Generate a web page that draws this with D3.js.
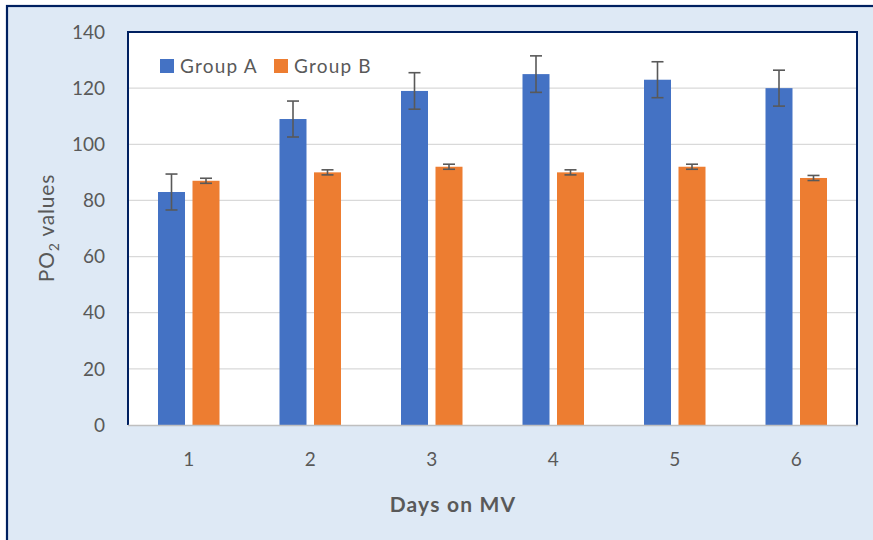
<!DOCTYPE html>
<html><head><meta charset="utf-8">
<script src="https://cdn.jsdelivr.net/npm/d3@7"></script>
<style>body{margin:0;background:#fff}svg{display:block}text{font-family:Lato,"Open Sans",sans-serif}</style>
</head><body>
<svg id="c" width="873" height="540"></svg>
<script>
const categories = ["1","2","3","4","5","6"];
const seriesNames = ["Group A","Group B"];
const groupA = [83,109,119,125,123,120];
const groupB = [87,90,92,90,92,88];
const errA = [6.4,6.4,6.5,6.5,6.4,6.4];
const errB = [0.9,0.9,0.9,0.9,0.9,0.9];
const yTicks = [0,20,40,60,80,100,120,140];
const colors = ["#4472C4","#ED7D31"];

const svg = d3.select("#c");
svg.append("rect").attr("x",7).attr("y",6).attr("width",880).attr("height",560)
  .attr("fill","#DEE9F5").attr("stroke","#002060").attr("stroke-width",2.2);

const L=128,R=857,T=32,B=425;
svg.append("rect").attr("x",L).attr("y",T).attr("width",R-L).attr("height",B-T).attr("fill","#fff");

const x = d3.scaleBand().domain(categories).range([L,R]);
const y = d3.scaleLinear().domain([0,140]).range([B,T]);

svg.append("g").selectAll("line").data(yTicks.filter(d=>d>0)).join("line")
  .attr("x1",L).attr("x2",R).attr("y1",d=>y(d)).attr("y2",d=>y(d))
  .attr("stroke","#D9D9D9").attr("stroke-width",1.3);

const bw=27, gap=7.5;
const data = [groupA,groupB];
const errs = [errA,errB];
data.forEach((vals,si)=>{
  const off = si===0 ? -gap/2-bw : gap/2;
  const g = svg.append("g");
  g.selectAll("rect").data(vals).join("rect")
    .attr("x",(d,i)=>x(categories[i])+x.bandwidth()/2+off)
    .attr("y",d=>y(d)).attr("width",bw).attr("height",d=>B-y(d))
    .attr("fill",colors[si]);
  const eg = svg.append("g").attr("stroke","#595959").attr("stroke-width",1.6);
  vals.forEach((d,i)=>{
    const cx = x(categories[i])+x.bandwidth()/2+off+bw/2;
    const e = errs[si][i];
    eg.append("line").attr("x1",cx).attr("x2",cx).attr("y1",y(d+e)).attr("y2",y(d-e));
    [d+e,d-e].forEach(v=>eg.append("line").attr("x1",cx-6).attr("x2",cx+6).attr("y1",y(v)).attr("y2",y(v)));
  });
});

svg.append("path").attr("d",`M${L},${B}V${T}H${R}V${B}`).attr("fill","none").attr("stroke","#002060").attr("stroke-width",2);
svg.append("line").attr("x1",L).attr("x2",R+1).attr("y1",B+0.5).attr("y2",B+0.5).attr("stroke","#BFBFBF").attr("stroke-width",1.5);

svg.append("g").selectAll("text").data(yTicks).join("text")
  .attr("x",105).attr("y",d=>y(d)).attr("dy","0.35em").attr("text-anchor","end")
  .attr("font-size",19).attr("fill","#595959").text(d=>d);
svg.append("g").selectAll("text").data(categories).join("text")
  .attr("x",d=>x(d)+x.bandwidth()/2).attr("y",459).attr("dy","0.35em").attr("text-anchor","middle")
  .attr("font-size",19).attr("fill","#595959").text(d=>d);

svg.append("text").attr("x",453).attr("y",505).attr("dy","0.35em").attr("text-anchor","middle")
  .attr("font-size",21).attr("letter-spacing",1.2).attr("font-weight","bold").attr("fill","#595959").text("Days on MV");
const yt = svg.append("text").attr("transform","translate(47,228) rotate(-90)").attr("dy","0.35em")
  .attr("text-anchor","middle").attr("font-size",21).attr("letter-spacing",0.8).attr("fill","#595959");
yt.append("tspan").text("PO");
yt.append("tspan").attr("font-size",14).attr("dy","5").text("2");
yt.append("tspan").attr("dy","-5").text(" values");

const lg = svg.append("g");
seriesNames.forEach((n,i)=>{
  const lx = [160,274][i];
  lg.append("rect").attr("x",lx).attr("y",59).attr("width",14).attr("height",14).attr("fill",colors[i]);
  lg.append("text").attr("x",lx+20).attr("y",66).attr("dy","0.35em").attr("font-size",19)
    .attr("letter-spacing",1.2).attr("fill","#595959").text(n);
});
</script>
</body></html>
